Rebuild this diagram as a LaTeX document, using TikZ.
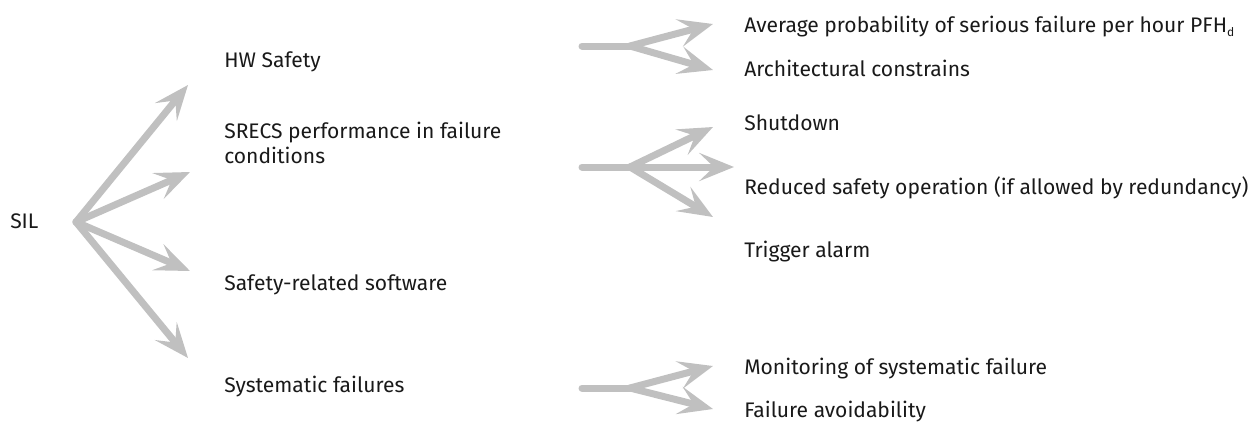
\documentclass[tikz,border=0pt]{standalone}
\usepackage{xcolor}
\usepackage{fontspec}
\setmainfont{Fira Sans}
\usepackage{tikz}
\usetikzlibrary{arrows.meta}

\definecolor{arrgray}{RGB}{192,192,192}
\definecolor{txtblack}{RGB}{25,25,25}

\newcommand{\lowsub}[1]{\raisebox{-0.45ex}{\fontsize{9}{9}\selectfont #1}}

\tikzset{
  lbl/.style={anchor=base west, inner sep=0pt, text=txtblack, font=\fontsize{15.8}{18.75}\selectfont, align=left},
  fatarrow/.style={draw=arrgray, line width=5.25pt, line cap=round, -{Stealth[length=26pt, width=21pt, inset=11pt]}},
  stem/.style={draw=arrgray, line width=5.25pt, line cap=round}
}

\begin{document}
\begin{tikzpicture}[x=0.75pt,y=0.75pt,yscale=-1,xscale=1]
        \useasboundingbox (0,0) rectangle (1254,422);
        % left fan
        \coordinate (silpt) at (76,222);
        \coordinate (t1) at (188,85);
        \coordinate (t2) at (190,172);
        \coordinate (t3) at (190,271);
        \coordinate (t4) at (188,358);
        \draw [fatarrow] (silpt) -- (t1);
        \draw [fatarrow] (silpt) -- (t2);
        \draw [fatarrow] (silpt) -- (t3);
        \draw [fatarrow] (silpt) -- (t4);

        % HW safety fork
        \coordinate (a0) at (582,46);
        \coordinate (aj) at (630,46);
        \coordinate (a1) at (713,24);
        \coordinate (a2) at (713,70);
        \draw [stem] (a0) -- (aj);
        \draw [fatarrow] (aj) -- (a1);
        \draw [fatarrow] (aj) -- (a2);

        % SRECS fork
        \coordinate (b0) at (582,167);
        \coordinate (bj) at (630,167);
        \coordinate (b1) at (713,127);
        \coordinate (b2) at (734,167);
        \coordinate (b3) at (713,217);
        \draw [stem] (b0) -- (bj);
        \draw [fatarrow] (bj) -- (b1);
        \draw [fatarrow] (bj) -- (b2);
        \draw [fatarrow] (bj) -- (b3);

        % systematic fork
        \coordinate (c0) at (582,388);
        \coordinate (cj) at (630,388);
        \coordinate (c1) at (713,366);
        \coordinate (c2) at (713,409);
        \draw [stem] (c0) -- (cj);
        \draw [fatarrow] (cj) -- (c1);
        \draw [fatarrow] (cj) -- (c2);

        \node [lbl] (sil) at (10,228) {SIL};
        \node [lbl] (hw) at (224,67) {HW Safety};
        \node [lbl] (srecs) at (224,163) {SRECS performance in failure\\conditions};
        \node [lbl] (sw) at (224,290) {Safety-related software};
        \node [lbl] (sys) at (224,392) {Systematic failures};

        \node [lbl] (pfh) at (744,32) {Average probability of serious failure per hour PFH\lowsub{d}};
        \node [lbl] (arch) at (744,76) {Architectural constrains};
        \node [lbl] (shut) at (744,130) {Shutdown};
        \node [lbl] (red) at (744,194) {Reduced safety operation (if allowed by redundancy)};
        \node [lbl] (trig) at (744,257) {Trigger alarm};
        \node [lbl] (mon) at (744,374) {Monitoring of systematic failure};
        \node [lbl] (avoid) at (744,417) {Failure avoidability};
    \end{tikzpicture}
\end{document}
